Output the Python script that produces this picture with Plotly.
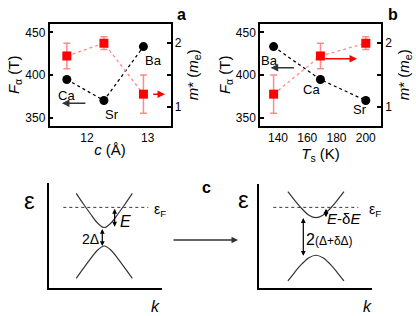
import plotly.graph_objects as go

# ---------------- data ----------------
compounds = ["Ca", "Sr", "Ba"]
c_lattice = [11.67, 12.28, 12.93]      # c (Å)
Ts = [169, 200, 137]                   # T_s (K)
F_alpha = [395.0, 370.5, 433.5]        # F_alpha (T)
m_eff = [1.80, 2.00, 1.20]             # m* (m_e)
m_err = [0.20, 0.10, 0.30]

# schematic band diagrams (panel c)
k_band = [-1, -0.75, -0.5, -0.25, 0, 0.25, 0.5, 0.75, 1]
left_upper = [1.55, 1.18, 0.83, 0.50, 0.33, 0.50, 0.83, 1.18, 1.55]
left_lower = [-1.49, -1.14, -0.80, -0.49, -0.33, -0.49, -0.80, -1.14, -1.49]
right_upper = [1.60, 1.28, 0.99, 0.76, 0.67, 0.76, 0.99, 1.28, 1.60]
right_lower = [-1.59, -1.27, -0.98, -0.76, -0.67, -0.76, -0.98, -1.27, -1.59]
fermi_k_left = [-1.46, 1.57]
fermi_k_right = [-1.52, 1.51]
eF_left = 1.05
eF_right = 1.04

W, H = 416, 316
FONT = "Liberation Sans, Arial, sans-serif"
RED = "#ff0000"
LRED = "#ff8a8a"


def px(v):
    return v / W


def py(v):
    return 1 - v / H


fig = go.Figure()


def add_panel(xvals, xa, ya, ya2):
    order = sorted(range(len(xvals)), key=lambda i: xvals[i])
    xs = [xvals[i] for i in order]
    fig.add_trace(go.Scatter(
        x=xs, y=[m_eff[i] for i in order],
        error_y=dict(type="data", array=[m_err[i] for i in order],
                     color=LRED, thickness=1.5, width=3.5),
        mode="lines+markers",
        line=dict(color=LRED, width=1.3, dash="dot"),
        marker=dict(symbol="square", size=9, color=RED),
        xaxis=xa, yaxis=ya2, showlegend=False, cliponaxis=False))
    fig.add_trace(go.Scatter(
        x=xs, y=[F_alpha[i] for i in order],
        mode="lines+markers",
        line=dict(color="black", width=1.3, dash="dot"),
        marker=dict(symbol="circle", size=9, color="black"),
        xaxis=xa, yaxis=ya, showlegend=False, cliponaxis=False))


add_panel(c_lattice, "x", "y", "y2")
add_panel(Ts, "x2", "y3", "y4")

# band diagrams
for xa, ya, up, lo, fk, ef in [("x3", "y5", left_upper, left_lower, fermi_k_left, eF_left),
                               ("x4", "y6", right_upper, right_lower, fermi_k_right, eF_right)]:
    for band in (up, lo):
        fig.add_trace(go.Scatter(x=k_band, y=band, mode="lines",
                                 line=dict(color="#333333", width=1.2, shape="spline"),
                                 xaxis=xa, yaxis=ya, showlegend=False))
    fig.add_trace(go.Scatter(x=fk, y=[ef, ef], mode="lines",
                             line=dict(color="#333333", width=1, dash="dot"),
                             xaxis=xa, yaxis=ya, showlegend=False))

# ---------------- axes ----------------
frame = dict(showline=True, linecolor="black", linewidth=1.5, mirror=True,
             ticks="inside", ticklen=4, tickwidth=1.5, tickcolor="black",
             showgrid=False, zeroline=False,
             tickfont=dict(family=FONT, size=12, color="black"))
ydom_top = [py(126), py(23.5)]
title_font = dict(family=FONT, size=15, color="black")

fig.update_layout(
    xaxis=dict(frame, domain=[px(49.5), px(170.5)], range=[11.385, 13.375],
               tickvals=[12, 13], anchor="y", ticks="",
               title=dict(text="<i>c</i> (Å)", font=title_font, standoff=0)),
    yaxis=dict(frame, domain=ydom_top, range=[340.7, 460.5], tickvals=[350, 400, 450],
               anchor="x",
               title=dict(text="<i>F</i><sub>α</sub> (T)", font=title_font, standoff=2)),
    yaxis2=dict(frame, overlaying="y", side="right", anchor="x", range=[0.70, 2.31],
                tickvals=[1, 1.5, 2], ticktext=["1", "", "2"], mirror=False,
                title=dict(text="<i>m</i>* (<i>m</i><sub>e</sub>)", font=title_font, standoff=7)),
    xaxis2=dict(frame, domain=[px(260), px(381)], range=[127.7, 210.4],
                tickvals=[140, 160, 180, 200], anchor="y3", ticks="",
                title=dict(text="<i>T</i><sub>s</sub> (K)", font=title_font, standoff=0)),
    yaxis3=dict(frame, domain=ydom_top, range=[340.7, 460.5], tickvals=[350, 400, 450],
                anchor="x2",
                title=dict(text="<i>F</i><sub>α</sub> (T)", font=title_font, standoff=2)),
    yaxis4=dict(frame, overlaying="y3", side="right", anchor="x2", range=[0.70, 2.31],
                tickvals=[1, 1.5, 2], ticktext=["1", "", "2"], mirror=False,
                title=dict(text="<i>m</i>* (<i>m</i><sub>e</sub>)", font=title_font, standoff=7)),
)

diag = dict(showline=True, linecolor="black", linewidth=2, mirror=False,
            ticks="", showticklabels=False, showgrid=False, zeroline=False)
fig.update_layout(
    xaxis3=dict(diag, domain=[px(49.3), px(162.3)], range=[-1.96, 2.07], anchor="y5"),
    yaxis5=dict(diag, domain=[py(287.7), py(183)], range=[-1.82, 1.92], anchor="x3"),
    xaxis4=dict(diag, domain=[px(259.3), px(371.7)], range=[-2.02, 1.99], anchor="y6"),
    yaxis6=dict(diag, domain=[py(287.7), py(184.3)], range=[-1.83, 1.864], anchor="x4"),
)

ann = []


def text(x, y, s, xref, yref, size=13, **kw):
    ann.append(dict(x=x, y=y, text=s, xref=xref, yref=yref, showarrow=False,
                    xanchor="center", yanchor="middle",
                    font=dict(family=FONT, size=size, color="black"), **kw))


def arrow(x, y, ax, ay, xref, yref, color="black", both=False, width=1.2, head=2, size=1):
    ann.append(dict(x=x, y=y, ax=ax, ay=ay, xref=xref, yref=yref, axref=xref, ayref=yref,
                    text="", showarrow=True, arrowhead=head, arrowsize=size,
                    arrowwidth=width, arrowcolor=color,
                    arrowside="end+start" if both else "end", startarrowhead=head,
                    startarrowsize=size))


# panel a labels
text(11.66, 376.9, "Ca", "x", "y")
text(12.41, 354.7, "Sr", "x", "y")
text(13.09, 417.0, "Ba", "x", "y")
arrow(11.59, 367.2, 12.0, 367.2, "x", "y", color="#333333", width=1.5)
arrow(13.285, 1.20, 13.066, 1.20, "x", "y2", color=RED, width=1.5)
# panel b labels
text(134.5, 416.7, "Ba", "x2", "y3")
text(163.0, 382.8, "Ca", "x2", "y3")
text(196.1, 359.4, "Sr", "x2", "y3")
arrow(135.0, 408.8, 151.9, 408.8, "x2", "y3", color="#333333", width=1.5)
arrow(194.0, 1.757, 171.2, 1.757, "x2", "y4", color=RED, width=1.5)

# panel letters
text(px(181), py(14), "<b>a</b>", "paper", "paper", size=16)
text(px(393), py(14), "<b>b</b>", "paper", "paper", size=16)
text(px(206), py(187), "<b>c</b>", "paper", "paper", size=16)

# left diagram
text(px(30), py(200), "ε", "paper", "paper", size=24)
text(px(155), py(306), "<i>k</i>", "paper", "paper", size=16)
text(px(160), py(210), "ε<sub>F</sub>", "paper", "paper", size=14)
arrow(0.37, 0.36, 0.37, 1.05, "x3", "y5", both=True, width=1.2, head=2, size=0.8)
arrow(-0.07, -0.33, -0.07, 0.33, "x3", "y5", both=True, width=1.2, head=2, size=0.8)
text(px(125), py(221.5), "<i>E</i>", "paper", "paper", size=16)
text(px(90), py(238.5), "2Δ", "paper", "paper", size=14)
# right diagram
text(px(243), py(199), "ε", "paper", "paper", size=24)
text(px(367), py(306), "<i>k</i>", "paper", "paper", size=16)
text(px(375), py(210), "ε<sub>F</sub>", "paper", "paper", size=14)
arrow(0.36, 0.69, 0.36, 1.04, "x4", "y6", both=True, width=1.2, head=2, size=0.8)
arrow(-0.45, -0.69, -0.45, 0.71, "x4", "y6", both=True, width=1.2, head=2, size=0.8)
text(px(344), py(218.5), "<i>E</i>-δ<i>E</i>", "paper", "paper", size=15)
text(px(329), py(239.5), "2<span style='font-size:12px'>(Δ+δΔ)</span>", "paper", "paper", size=16)

# transition arrow between diagrams
ann.append(dict(x=px(238), y=py(240), xref="paper", yref="paper", ax=-66, ay=0,
                text="", showarrow=True, arrowhead=2, arrowsize=1, arrowwidth=1.3,
                arrowcolor="#333333"))

fig.update_layout(
    annotations=ann,
    width=W, height=H,
    margin=dict(l=0, r=0, t=0, b=0),
    paper_bgcolor="white", plot_bgcolor="white",
    font=dict(family=FONT, size=12, color="black"),
    showlegend=False,
)

fig.write_html("out.html", config={"displayModeBar": False},
               post_script="document.body.style.margin='0';document.body.style.overflow='hidden';")
